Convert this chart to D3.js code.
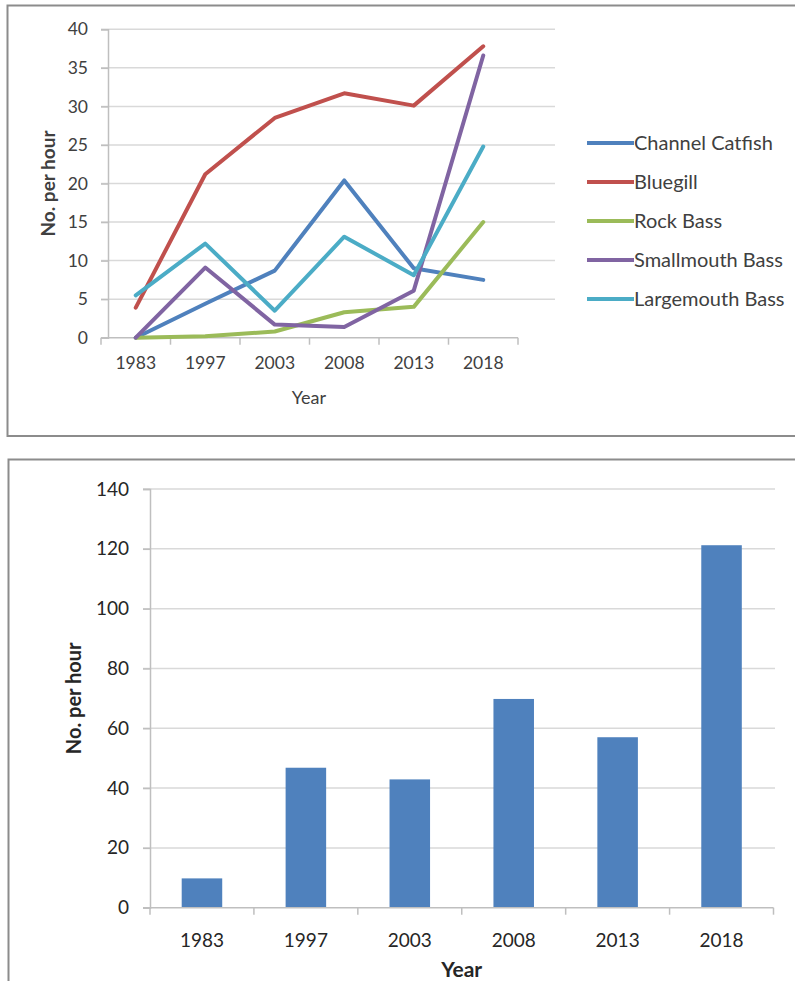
<!DOCTYPE html>
<html>
<head>
<meta charset="utf-8">
<script src="https://cdn.jsdelivr.net/npm/d3@7"></script>
<style>
  html, body { margin: 0; padding: 0; background: #fff; }
  svg { display: block; font-family: Lato, "Open Sans", sans-serif; }
</style>
</head>
<body>
<svg id="chart" width="795" height="981"></svg>
<script>
// Survey years (shared by both panels)
const years = ["1983", "1997", "2003", "2008", "2013", "2018"];

// Catch per hour by species
const speciesNames = ["Channel Catfish", "Bluegill", "Rock Bass", "Smallmouth Bass", "Largemouth Bass"];
const channelCatfish = [0, 4.4, 8.7, 20.4, 9.0, 7.5];
const bluegill       = [3.9, 21.2, 28.5, 31.7, 30.1, 37.8];
const rockBass       = [0, 0.2, 0.8, 3.3, 4.0, 15.0];
const smallmouthBass = [0, 9.1, 1.7, 1.4, 6.1, 36.6];
const largemouthBass = [5.5, 12.2, 3.5, 13.1, 8.1, 24.8];
const speciesColors  = ["#4F81BD", "#C0504D", "#9BBB59", "#8064A2", "#4BACC6"];

// Total catch per hour
const totalCatch = [9.8, 46.8, 42.9, 69.8, 57.0, 121.2];

const topTicks = [0, 5, 10, 15, 20, 25, 30, 35, 40];
const bottomTicks = [0, 20, 40, 60, 80, 100, 120, 140];

const svg = d3.select("#chart");
const gridColor = "#d9d9d9";
const axisColor = "#bfbfbf";
const textColor = "#404040";

// ---------- panel frames ----------
svg.append("rect").attr("x", 7.5).attr("y", 5.5).attr("width", 800).attr("height", 430.5)
  .attr("fill", "none").attr("stroke", "#8c8c8c").attr("stroke-width", 2);
svg.append("rect").attr("x", 8.5).attr("y", 459.5).attr("width", 800).attr("height", 600)
  .attr("fill", "none").attr("stroke", "#8c8c8c").attr("stroke-width", 2);

// ---------- top panel: line chart ----------
{
  const left = 101, right = 518, top = 29.3, bottom = 337.7;
  const x = d3.scaleBand().domain(years).range([left, right]);
  const y = d3.scaleLinear().domain([0, 40]).range([bottom, top]);
  const g = svg.append("g");

  // horizontal gridlines
  g.selectAll("line.grid").data(topTicks.filter(d => d > 0)).join("line")
    .attr("x1", left).attr("x2", 555)
    .attr("y1", d => y(d)).attr("y2", d => y(d))
    .attr("stroke", gridColor).attr("stroke-width", 1.5);

  // y axis
  const ya = g.append("g").attr("transform", `translate(${left + 7},0)`)
    .call(d3.axisLeft(y).tickValues(topTicks).tickSize(7).tickPadding(13));
  ya.select(".domain").attr("stroke", axisColor).attr("stroke-width", 1.5);
  ya.selectAll(".tick line").attr("stroke", axisColor).attr("stroke-width", 1.5);
  ya.selectAll(".tick text").attr("fill", textColor).style("font-size", "17.5px")
    .style("font-family", "Lato, sans-serif");

  // x axis with ticks at category boundaries
  const xa = g.append("g").attr("transform", `translate(0,${bottom})`);
  xa.append("line").attr("x1", left).attr("x2", right).attr("stroke", axisColor).attr("stroke-width", 1.5);
  xa.selectAll("line.tk").data(d3.range(years.length + 1)).join("line")
    .attr("x1", i => left + i * x.step()).attr("x2", i => left + i * x.step())
    .attr("y1", 0).attr("y2", 7).attr("stroke", axisColor).attr("stroke-width", 1.5);
  xa.selectAll("text").data(years).join("text")
    .attr("x", d => x(d) + x.bandwidth() / 2).attr("y", 31)
    .attr("text-anchor", "middle").attr("fill", textColor).style("font-size", "17.5px").text(d => d);

  // series lines
  const seriesValues = [channelCatfish, bluegill, rockBass, smallmouthBass, largemouthBass];
  const line = d3.line().x((d, i) => x(years[i]) + x.bandwidth() / 2).y(d => y(d));
  g.selectAll("path.series").data(seriesValues).join("path")
    .attr("d", d => line(d)).attr("fill", "none")
    .attr("stroke", (d, i) => speciesColors[i]).attr("stroke-width", 4)
    .attr("stroke-linejoin", "round").attr("stroke-linecap", "round");

  // axis titles
  g.append("text").attr("transform", `translate(55,${(top + bottom) / 2}) rotate(-90)`)
    .attr("text-anchor", "middle").attr("fill", textColor).style("font-size", "19px")
    .style("font-weight", "bold").text("No. per hour");
  g.append("text").attr("x", 309).attr("y", 404)
    .attr("text-anchor", "middle").attr("fill", textColor).style("font-size", "18px").text("Year");

  // legend
  const lg = g.append("g");
  const rows = lg.selectAll("g").data(speciesNames).join("g")
    .attr("transform", (d, i) => `translate(587,${143 + i * 39})`);
  rows.append("line").attr("x1", 0).attr("x2", 47)
    .attr("stroke", (d, i) => speciesColors[i]).attr("stroke-width", 4);
  rows.append("text").attr("x", 47).attr("y", 7).attr("fill", textColor)
    .style("font-size", "20px").text(d => d);
}

// ---------- bottom panel: bar chart ----------
{
  const left = 150, right = 773.5, top = 489, bottom = 907.7;
  const x = d3.scaleBand().domain(years).range([left, right]).paddingInner(0.61).paddingOuter(0.305);
  const y = d3.scaleLinear().domain([0, 140]).range([bottom, top]);
  const g = svg.append("g");

  g.selectAll("line.grid").data(bottomTicks.filter(d => d > 0)).join("line")
    .attr("x1", left - 7).attr("x2", 775)
    .attr("y1", d => y(d)).attr("y2", d => y(d))
    .attr("stroke", gridColor).attr("stroke-width", 1.5);

  const ya = g.append("g").attr("transform", `translate(${left},0)`)
    .call(d3.axisLeft(y).tickValues(bottomTicks).tickSize(7).tickPadding(14));
  ya.select(".domain").attr("stroke", axisColor).attr("stroke-width", 1.5);
  ya.selectAll(".tick text").attr("fill", "#262626").style("font-size", "19px")
    .style("font-family", "Lato, sans-serif");
  ya.selectAll(".tick line").attr("stroke", axisColor).attr("stroke-width", 1.5);

  g.selectAll("rect.bar").data(totalCatch).join("rect")
    .attr("x", (d, i) => x(years[i])).attr("width", x.bandwidth())
    .attr("y", d => y(d)).attr("height", d => bottom - y(d))
    .attr("fill", "#4F81BD");

  const step = (right - left) / years.length;
  const xa = g.append("g").attr("transform", `translate(0,${bottom})`);
  xa.append("line").attr("x1", left - 7).attr("x2", right).attr("stroke", axisColor).attr("stroke-width", 1.5);
  xa.selectAll("line.tk").data(d3.range(years.length + 1)).join("line")
    .attr("x1", i => left + i * step).attr("x2", i => left + i * step)
    .attr("y1", 0).attr("y2", 7).attr("stroke", axisColor).attr("stroke-width", 1.5);
  xa.selectAll("text").data(years).join("text")
    .attr("x", (d, i) => left + (i + 0.5) * step).attr("y", 39)
    .attr("text-anchor", "middle").attr("fill", "#262626").style("font-size", "19px").text(d => d);

  g.append("text").attr("transform", `translate(81,${(top + bottom) / 2}) rotate(-90)`)
    .attr("text-anchor", "middle").attr("fill", "#262626").style("font-size", "20px")
    .style("font-weight", "bold").text("No. per hour");
  g.append("text").attr("x", (left + right) / 2).attr("y", 977)
    .attr("text-anchor", "middle").attr("fill", "#262626").style("font-size", "21px")
    .style("font-weight", "bold").text("Year");
}
</script>
</body>
</html>
